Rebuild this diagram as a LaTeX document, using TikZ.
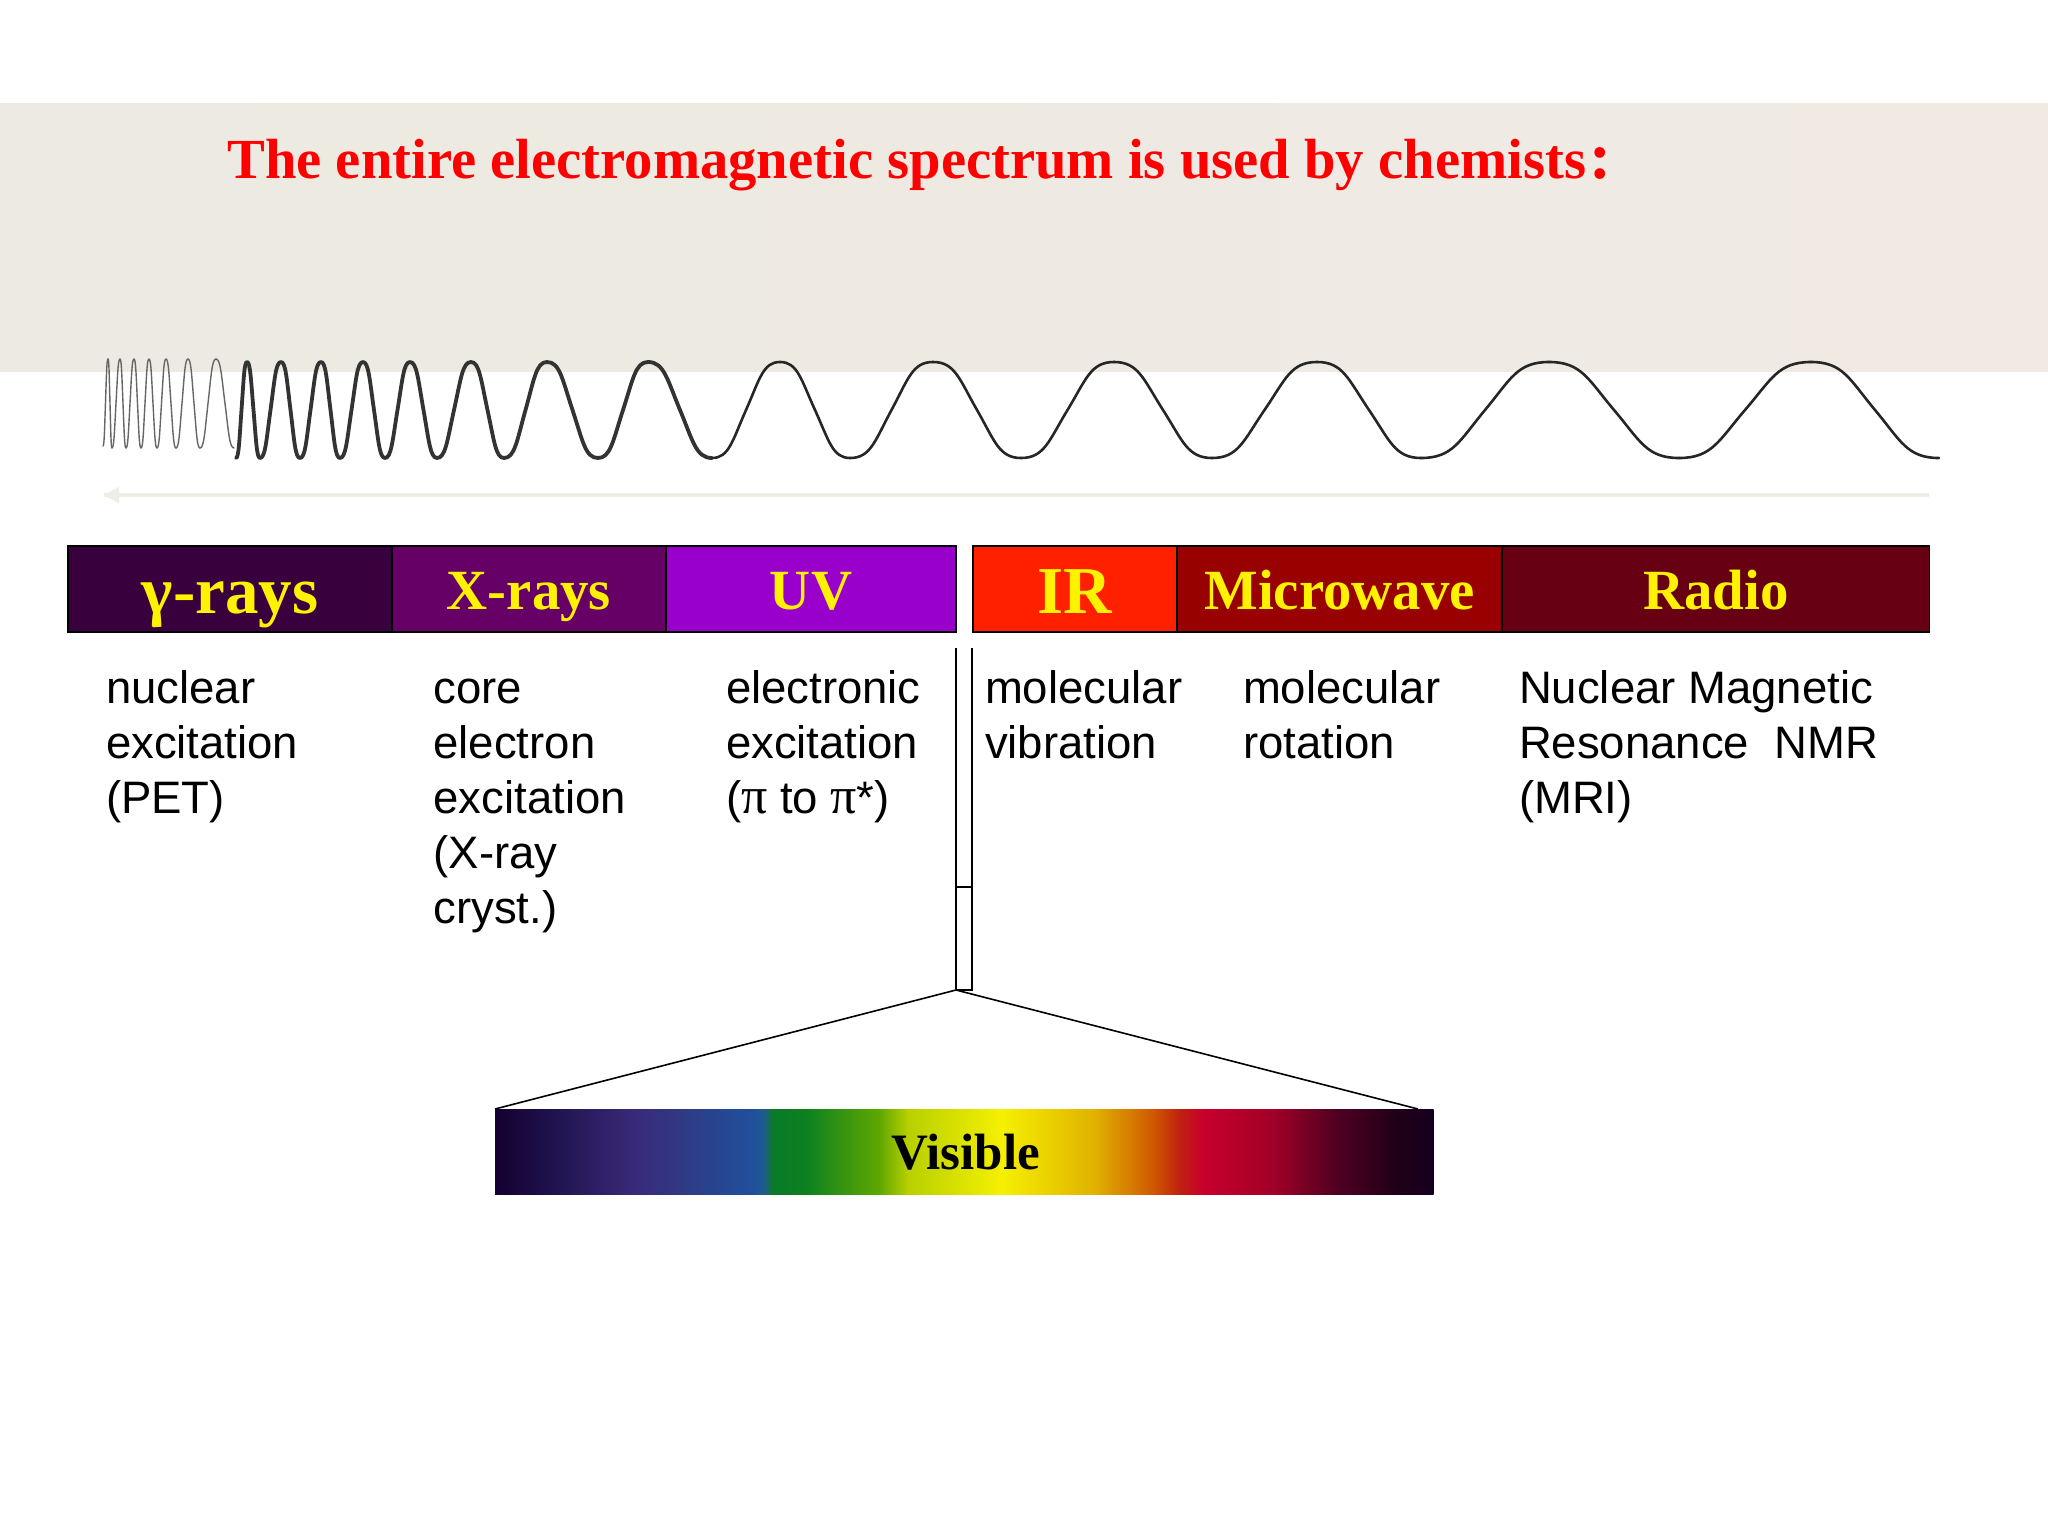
\documentclass[tikz,border=0pt]{standalone}
\usepackage{fontspec}
\setmainfont{Liberation Sans}
\newfontfamily\serf{Liberation Serif}
\definecolor{bandl}{HTML}{ECEAE2}\definecolor{bandr}{HTML}{F0EAE3}\definecolor{arrowc}{HTML}{EEEEE6}
\definecolor{cgamma}{HTML}{38003C}\definecolor{cx}{HTML}{660066}\definecolor{cuv}{HTML}{9900CC}
\definecolor{cir}{HTML}{FF2000}\definecolor{cmw}{HTML}{990000}\definecolor{cradio}{HTML}{660012}
\definecolor{sa}{HTML}{150030}\definecolor{sb}{HTML}{1C1048}\definecolor{sc}{HTML}{3A2A7A}\definecolor{sd}{HTML}{2F3A85}
\definecolor{se}{HTML}{20509C}\definecolor{sf}{HTML}{1F5A90}\definecolor{sg}{HTML}{0A7A2A}\definecolor{sh}{HTML}{0B8020}
\definecolor{si}{HTML}{60A800}\definecolor{sj}{HTML}{B8D000}\definecolor{sk}{HTML}{F5F000}\definecolor{sl}{HTML}{E0B000}
\definecolor{sm}{HTML}{D05A00}\definecolor{sn}{HTML}{C02010}\definecolor{so}{HTML}{C8002C}\definecolor{sp}{HTML}{A00028}
\definecolor{sq}{HTML}{500020}\definecolor{sr}{HTML}{200018}\definecolor{ss}{HTML}{150020}
\newcommand{\firstl}{\rule{0pt}{20pt}}
\newcommand{\pis}{{\serf\fontsize{26}{27.5}\selectfont π}}
\tikzset{
  barbox/.style={draw=black,line width=0.8pt,inner sep=0pt,outer sep=0pt,text=yellow,font=\serf\bfseries\fontsize{28.4}{28}\selectfont,minimum height=43pt,text height=31.5pt,text depth=11.5pt},
  bigbar/.style={font=\serf\bfseries\fontsize{33.5}{33}\selectfont,text height=33.5pt,text depth=9.5pt},
  desc/.style={anchor=north west,inner sep=0pt,outer sep=0pt,align=left,font=\fontsize{22.75}{27.5}\selectfont,text=black},
  wire/.style={draw=black,line width=0.8pt},
  thinwave/.style={draw=black!60,line width=0.7pt},
  fatwave/.style={draw=black!80,line width=1.9pt},
  midwave/.style={draw=black!85,line width=1.3pt},
}
\newcommand{\wave}[4]{%
  \foreach \px/\py [remember=\px as \lx (initially #2),remember=\py as \ly (initially #3)] in {#4}
    \draw[#1,line cap=round,line join=round] (\lx,\ly)
      .. controls ({\lx+0.25*(\px-\lx)},\ly) and ({\lx+0.3*(\px-\lx)},{\ly+0.18*(\py-\ly)}) .. ({\lx+0.5*(\px-\lx)},{\ly+0.5*(\py-\ly)})
      .. controls ({\lx+0.7*(\px-\lx)},{\ly+0.82*(\py-\ly)}) and ({\lx+0.75*(\px-\lx)},\py) .. (\px,\py);
}
\begin{document}
\begin{tikzpicture}[x=0.5pt,y=-0.5pt]
\useasboundingbox (0,0) rectangle (2048,1536);
\fill[white] (0,0) rectangle (2048,1536);
\shade[left color=bandl,right color=bandr] (0,104) rectangle (2048,371);
\node[anchor=base west,inner sep=0pt,text=red,font=\serf\bfseries\fontsize{28.32}{30}\selectfont] (title) at (227,178) {The entire electromagnetic spectrum is used by chemists\kern1.5pt\fontsize{33}{30}\selectfont:};
% wave
\wave{thinwave}{103}{446}{108/359,112/448,120/359,126/448,134/359,141/448,149/359,157/448,166/359,176/448,188/359,200/448,216/359,234/448}
\wave{fatwave}{236}{458}{247/362,260/458,281/362,300/458,321/362,340/458,363/362,385/458,410/362,437/458,471/362,504/458,547/362,598/458,648/362,712/458}
\wave{midwave}{712}{458}{780/362,850/458,933/362,1021/458,1114/362,1212/458,1317/362,1421/458,1549/362,1679/458,1811/362,1939/458}
% long arrow
\coordinate (arrE) at (1929,495);
\coordinate (arrW) at (104,495);
\draw[arrowc,line width=1.6pt] (arrE) -- (arrW);
\fill[arrowc] (103,495) -- (119,487) -- (119,503) -- cycle;
% bars
\node[barbox,fill=cgamma,minimum width=162pt,bigbar] (gamma) at (230,589) {γ-rays};
\node[barbox,fill=cx,minimum width=137pt] (xray) at (529,589) {X-rays};
\node[barbox,fill=cuv,minimum width=145pt] (uv) at (811,589) {UV};
\node[barbox,fill=cir,minimum width=102pt,bigbar] (ir) at (1075,589) {IR};
\node[barbox,fill=cmw,minimum width=162.5pt] (mw) at (1339.5,589) {Microwave};
\node[barbox,fill=cradio,minimum width=213.5pt] (radio) at (1716,589) {Radio};
% descriptions
\node[desc] (d1) at (106,663) {\firstl nuclear\\excitation\\(PET)};
\node[desc] (d2) at (433.5,663) {\firstl core\\electron\\excitation\\(X-ray\\cryst.)};
\node[desc] (d3) at (726,663) {\firstl electronic\\excitation\\(\pis{} to \pis*)};
\node[desc] (d4) at (985,663) {\firstl molecular\\vibration};
\node[desc] (d5) at (1243,663) {\firstl molecular\\rotation};
\node[desc] (d6) at (1519,663) {\firstl Nuclear Magnetic\\Resonance\ \ NMR\\(MRI)};
% visible spectrum
\foreach \fx/\fc [remember=\fx as \ox (initially 0),remember=\fc as \oc (initially sa)] in {5/sb,15/sc,20/sd,27.5/se,28.6/sf,29.6/sg,33/sh,41/si,44/sj,54/sk,64/sl,70/sm,73/sn,75.4/so,83/sp,89.6/sq,96/sr,100/ss}
  \shade[left color=\oc,right color=\fc] ({495+9.38*\ox},1109) rectangle ({495+9.38*\fx+0.6},1194);
\node[inner sep=0pt,outer sep=0pt,minimum width=469pt,minimum height=42.5pt,text height=30pt,text depth=12.5pt,font=\serf\bfseries\fontsize{25.5}{25}\selectfont,text=black] (vis) at (966,1151.5) {Visible};
% bracket
\coordinate (tl) at (956,648);\coordinate (tr) at (972,648);
\coordinate (ml) at (956,887);\coordinate (mr) at (972,887);
\coordinate (bl) at (956,990);\coordinate (br) at (972,990);
\coordinate (visl) at (495,1109);\coordinate (visr) at (1418,1109);
\draw[wire] (tl) -- (bl) -- (br) -- (tr);
\draw[wire] (ml) -- (mr);
\draw[wire] (visl) -- (bl) -- (visr);
\end{tikzpicture}
\end{document}
